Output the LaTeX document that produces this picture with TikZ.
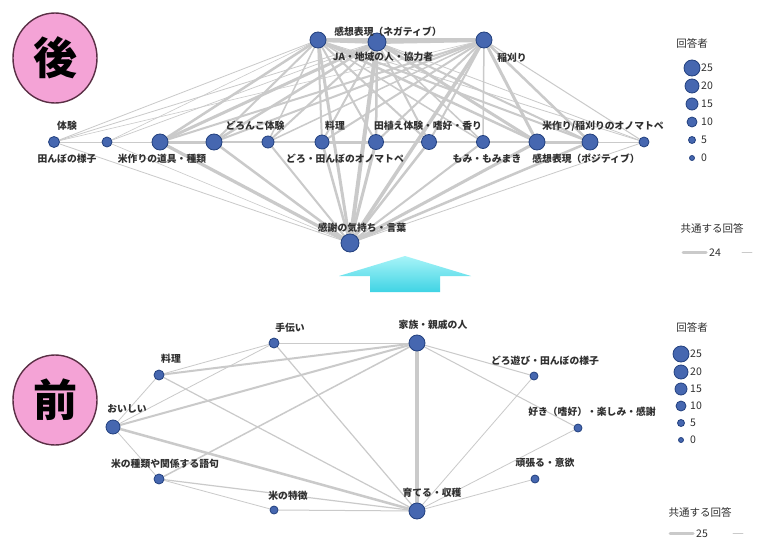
\documentclass[tikz,border=0pt]{standalone}
\usepackage{fontspec}
\setmainfont{Noto Sans CJK JP}
\newfontfamily\jp{Noto Sans CJK JP}
\usetikzlibrary{backgrounds,shapes.geometric}
\definecolor{nodeblue}{HTML}{4667B0}
\definecolor{nodeedge}{HTML}{22407E}
\definecolor{edgegray}{HTML}{CACACA}
\definecolor{pinkfill}{HTML}{F4A3D6}
\definecolor{pinkedge}{HTML}{5A2F45}
\definecolor{labelc}{HTML}{303030}
\definecolor{arrowA}{HTML}{A8F4F8}
\definecolor{arrowB}{HTML}{3FD3E4}
\tikzset{
  vtx/.style={circle, fill=nodeblue, draw=nodeedge, line width=0.8pt, inner sep=0pt, minimum size=#1},
  vtx/.default=12pt,
  lbl/.style={font=\jp\fontsize{9.8}{10}\selectfont\bfseries, text=labelc, inner sep=0pt},
  lgd/.style={font=\jp\fontsize{10.5}{10.5}\selectfont, text=labelc, inner sep=0pt},
  edge/.style={draw=edgegray, line cap=round},
  badge/.style={ellipse, fill=pinkfill, draw=pinkedge, line width=1.4pt, minimum width=84pt, minimum height=90pt, inner sep=0pt, font=\jp\fontsize{44}{44}\selectfont\bfseries}
}
\begin{document}
\begin{tikzpicture}[x=1pt, y=-1pt]
\useasboundingbox (0,0) rectangle (763,551);

% ---------------- AFTER (top) ----------------
\node[badge] (after) at (55,58) {後};

\node[vtx=16pt] (A) at (318,40) {};
\node[vtx=18pt] (B) at (377,42) {};
\node[vtx=16pt] (C) at (484,40) {};
\node[vtx=18pt] (D) at (350,243) {};

\node[vtx=11pt] (r1) at (54,142) {};
\node[vtx=10pt] (r2) at (107,142) {};
\node[vtx=16pt] (r3) at (160,142) {};
\node[vtx=16pt] (r4) at (214,142) {};
\node[vtx=12pt] (r5) at (268,142) {};
\node[vtx=14pt] (r6) at (322,142) {};
\node[vtx=15pt] (r7) at (376,142) {};
\node[vtx=15pt] (r8) at (429,142) {};
\node[vtx=13pt] (r9) at (483,142) {};
\node[vtx=16pt] (r10) at (537,142) {};
\node[vtx=16pt] (r11) at (590,142) {};
\node[vtx=10pt] (r12) at (644,142) {};

\node[lbl] (tA) at (388,32) {感想表現（ネガティブ）};
\node[lbl] (tB) at (383,57) {JA・地域の人・協力者};
\node[lbl] (tC) at (512,58) {稲刈り};
\node[lbl] (tD) at (362,228) {感謝の気持ち・言葉};
\node[lbl] (t1) at (67,126) {体験};
\node[lbl] (t2) at (67,159) {田んぼの様子};
\node[lbl] (t3) at (162,159) {米作りの道具・種類};
\node[lbl] (t4) at (255,126) {どろんこ体験};
\node[lbl] (t5) at (345,159) {どろ・田んぼのオノマトペ};
\node[lbl] (t6) at (335,126) {料理};
\node[lbl] (t7) at (428,126) {田植え体験・嗜好・香り};
\node[lbl] (t8) at (487,159) {もみ・もみまき};
\node[lbl] (t9) at (586,159) {感想表現（ポジティブ）};
\node[lbl] (t10) at (603,126) {米作り/稲刈りのオノマトペ};

% legend top
\node[lgd] (lgT) at (692,43) {回答者};
\foreach \v/\yy/\s in {25/68/16pt, 20/86/14pt, 15/104/12pt, 10/122/10pt, 5/140/7pt, 0/158/5pt}{
  \node[vtx=\s] (lgTc\v) at (692,\yy) {};
  \node[lgd, anchor=west] (lgTt\v) at (701,\yy) {\v};
}
\node[lgd] (lgT2) at (712,228) {共通する回答};
\coordinate (lgTa) at (683,252);
\coordinate (lgTb) at (706,252);
\draw[edge, line width=3pt] (lgTa) -- (lgTb);
\node[lgd, anchor=west] (lgTn) at (709,253) {24};
\coordinate (lgTc) at (742,252);
\coordinate (lgTd) at (752,252);
\draw[edge, line width=0.8pt] (lgTc) -- (lgTd);

\begin{pgfonlayer}{background}
  \fill[white] (0,0) rectangle (763,551);
  \foreach \a/\b/\w in {A/B/4, B/C/4, A/C/3, A/D/3, B/D/4, C/D/3.5,
    r1/A/0.8, r1/B/0.8, r1/C/0.6, r1/D/0.8,
    r2/A/0.6, r2/B/0.7, r2/D/0.6,
    r3/A/2.5, r3/B/3, r3/C/2, r3/D/3.2,
    r4/A/2, r4/B/2.5, r4/C/2, r4/D/2.5,
    r5/A/1.5, r5/B/2, r5/C/1.5, r5/D/2,
    r6/A/2, r6/B/2, r6/C/2, r6/D/2.5,
    r7/A/2, r7/B/2.5, r7/C/2, r7/D/3,
    r8/A/2, r8/B/2, r8/C/2, r8/D/2.5,
    r9/A/1.5, r9/B/1.5, r9/C/1.5, r9/D/2,
    r10/A/2.5, r10/B/3, r10/C/3, r10/D/3,
    r11/A/2, r11/B/2, r11/C/2.5, r11/D/2.5,
    r12/A/0.8, r12/B/0.8, r12/C/1, r12/D/0.8,
    r1/r2/1, r2/r3/1, r3/r4/3, r4/r5/2, r5/r6/2, r6/r7/3, r7/r8/2,
    r8/r9/2, r9/r10/2, r10/r11/3, r11/r12/1}{
    \draw[edge, line width=\w pt] (\a) -- (\b);
  }
\end{pgfonlayer}

% ---------------- arrow ----------------
\coordinate (arT) at (405,256);
\coordinate (arL) at (339,276);
\coordinate (arR) at (471,276);
\coordinate (asL) at (370,276);
\coordinate (asR) at (440,276);
\coordinate (abL) at (370,292);
\coordinate (abR) at (440,292);
\shade[top color=arrowA, bottom color=arrowB] (arT) -- (arR) -- (asR) -- (abR) -- (abL) -- (asL) -- (arL) -- cycle;

% ---------------- BEFORE (bottom) ----------------
\node[badge] (before) at (55,400) {前};

\node[vtx=16pt] (fam) at (417,343) {};
\node[vtx=16pt] (grow) at (417,511) {};
\node[vtx=10pt] (help) at (274,343) {};
\node[vtx=10pt] (cook) at (159,375) {};
\node[vtx=14pt] (tasty) at (113,427) {};
\node[vtx=10pt] (kind) at (159,479) {};
\node[vtx=8pt] (feat) at (274,510) {};
\node[vtx=8pt] (mud) at (534,376) {};
\node[vtx=8pt] (like) at (578,428) {};
\node[vtx=8pt] (try) at (535,479) {};

\node[lbl] (lfam) at (433,325) {家族・親戚の人};
\node[lbl] (lgrow) at (432,493) {育てる・収穫};
\node[lbl] (lhelp) at (290,328) {手伝い};
\node[lbl] (lcook) at (171,359) {料理};
\node[lbl] (ltasty) at (127,409) {おいしい};
\node[lbl] (lkind) at (165,464) {米の種類や関係する語句};
\node[lbl] (lfeat) at (288,496) {米の特徴};
\node[lbl] (lmud) at (545,361) {どろ遊び・田んぼの様子};
\node[lbl] (llike) at (592,412) {好き（嗜好）・楽しみ・感謝};
\node[lbl] (ltry) at (545,463) {頑張る・意欲};

% legend bottom
\node[lgd] (lgB) at (692,327) {回答者};
\foreach \v/\yy/\s in {25/354/16pt, 20/372/14pt, 15/389/12pt, 10/406/10pt, 5/423/7pt, 0/440/5pt}{
  \node[vtx=\s] (lgBc\v) at (681,\yy) {};
  \node[lgd, anchor=west] (lgBt\v) at (690,\yy) {\v};
}
\node[lgd] (lgB2) at (700,512) {共通する回答};
\coordinate (lgBa) at (670,533);
\coordinate (lgBb) at (693,533);
\draw[edge, line width=3pt] (lgBa) -- (lgBb);
\node[lgd, anchor=west] (lgBn) at (696,534) {25};
\coordinate (lgBc) at (733,533);
\coordinate (lgBd) at (743,533);
\draw[edge, line width=0.8pt] (lgBc) -- (lgBd);

\begin{pgfonlayer}{background}
  \foreach \a/\b/\w in {fam/grow/3.5, fam/help/1, fam/cook/2, fam/tasty/2, fam/kind/1.5,
    fam/mud/1, fam/like/1, help/cook/0.8, help/tasty/0.8, help/grow/1.2,
    cook/grow/1.2, cook/tasty/0.8, tasty/grow/2.5, tasty/kind/0.8,
    kind/feat/0.8, kind/grow/1.2, feat/grow/1, grow/mud/0.8, grow/like/0.8, grow/try/0.8}{
    \draw[edge, line width=\w pt] (\a) -- (\b);
  }
\end{pgfonlayer}
\end{tikzpicture}
\end{document}
